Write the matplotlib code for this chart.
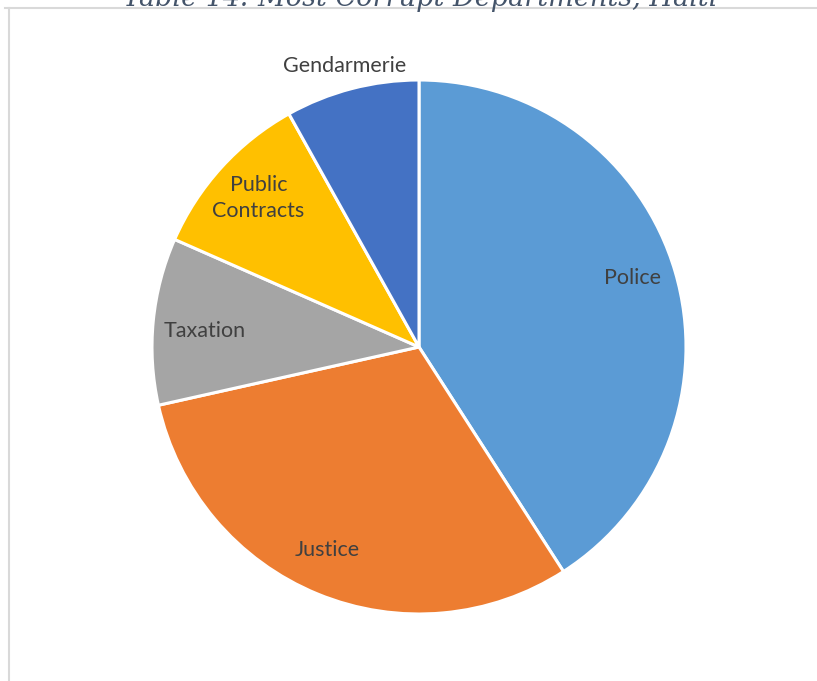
import numpy as np
import matplotlib.pyplot as plt
from matplotlib.lines import Line2D

# Share of respondents naming each department as the most corrupt (%)
departments = ['Police', 'Justice', 'Taxation', 'Public\nContracts', 'Gendarmerie']
shares = [40.9, 30.6, 10.1, 10.3, 8.1]
colors = ['#5B9BD5', '#ED7D31', '#A5A5A5', '#FFC000', '#4472C4']
label_radius = [0.84, 0.835, 0.805, 0.82, 1.09]
label_shift = [1.5, -2.0, 1.3, -0.5, 0.3]  # degrees, nudges off the wedge middle

W, H = 817, 681
fig = plt.figure(figsize=(W / 100, H / 100), dpi=100)

# frame of the chart area
fig.add_artist(Line2D([5 / W, 1], [1 - 8 / H, 1 - 8 / H], color='#d9d9d9', lw=1.5))
fig.add_artist(Line2D([9 / W, 9 / W], [0, 1 - 8 / H], color='#d9d9d9', lw=1.5))

# caption above the chart, partly cut by the top edge
fig.text(420 / W, 1 + 2 / H, 'Table 14: Most Corrupt Departments, Haiti',
         ha='center', va='center', fontsize=19.5, style='italic',
         family='DejaVu Serif', color='#44546A')

cx, cy, r = 419, 347, 267
ax = fig.add_axes([(cx - r) / W, (H - cy - r) / H, 2 * r / W, 2 * r / H])
wedges, _ = ax.pie(shares, colors=colors, startangle=90, counterclock=False,
                   radius=1, wedgeprops=dict(edgecolor='white', linewidth=2.2))
ax.set_aspect('equal')
ax.set_xlim(-1, 1)
ax.set_ylim(-1, 1)
ax.axis('off')

for w, name, rad, dth in zip(wedges, departments, label_radius, label_shift):
    theta = np.deg2rad((w.theta1 + w.theta2) / 2 + dth)
    ax.text(rad * np.cos(theta), rad * np.sin(theta), name, ha='center', va='center',
            fontsize=15.5, family='Lato', color='#404040', linespacing=1.35)

fig.savefig('out.png', dpi=100)
